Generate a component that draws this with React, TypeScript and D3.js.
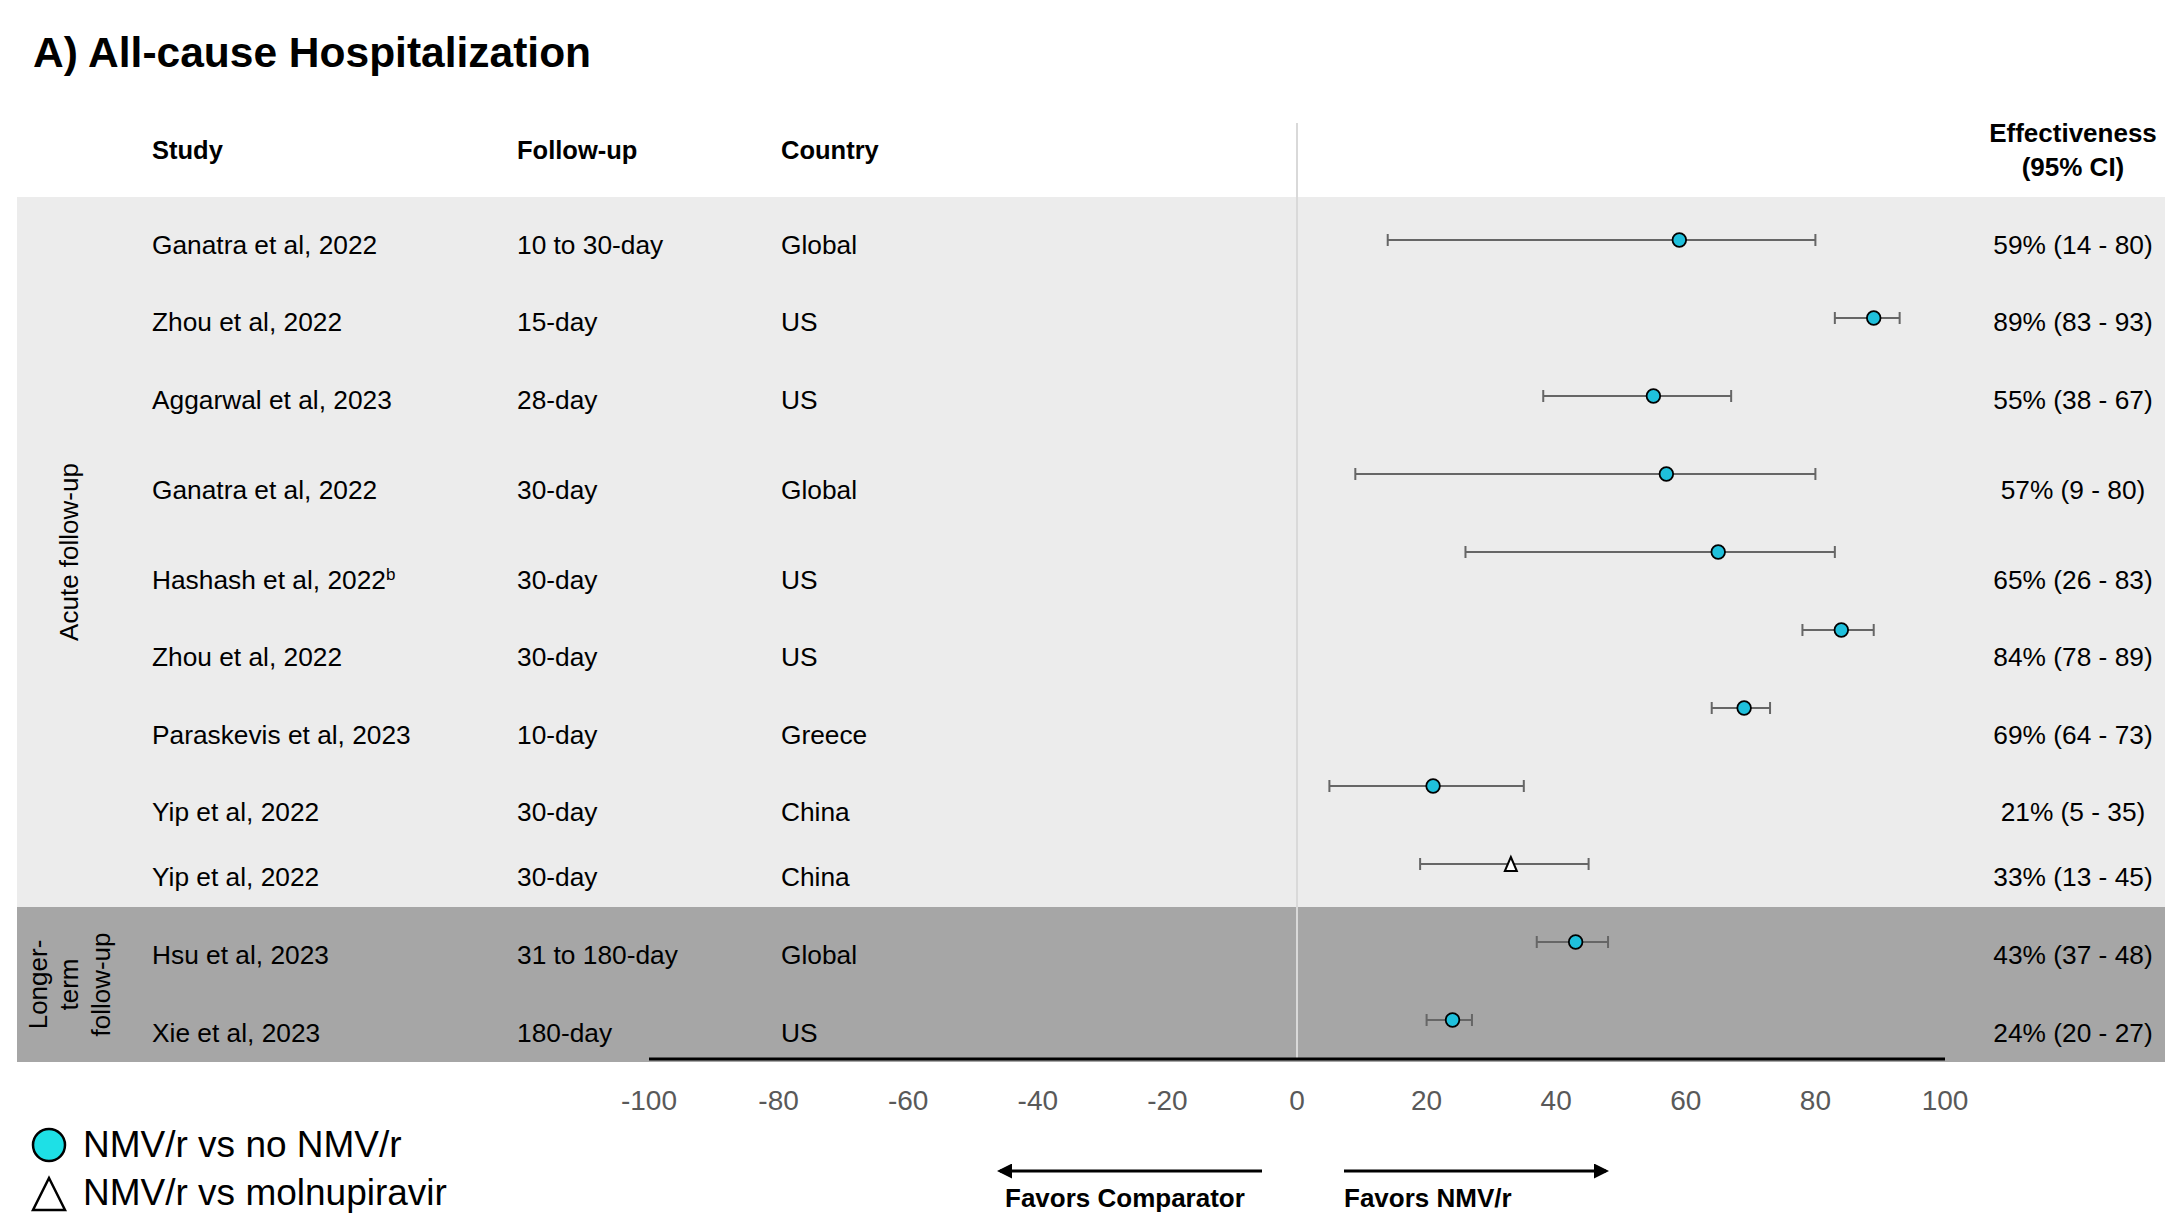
import React from "react";
import * as d3 from "d3";

// ---------- DATA ----------
const studies = [
  "Ganatra et al, 2022",
  "Zhou et al, 2022",
  "Aggarwal et al, 2023",
  "Ganatra et al, 2022",
  "Hashash et al, 2022",
  "Zhou et al, 2022",
  "Paraskevis et al, 2023",
  "Yip et al, 2022",
  "Yip et al, 2022",
  "Hsu et al, 2023",
  "Xie et al, 2023",
];
const footnotes = ["", "", "", "", "b", "", "", "", "", "", ""];
const followUps = [
  "10 to 30-day",
  "15-day",
  "28-day",
  "30-day",
  "30-day",
  "30-day",
  "10-day",
  "30-day",
  "30-day",
  "31 to 180-day",
  "180-day",
];
const countries = ["Global", "US", "US", "Global", "US", "US", "Greece", "China", "China", "Global", "US"];
// plotted values (as drawn in the picture)
const estimates = [59, 89, 55, 57, 65, 84, 69, 21, 33, 43, 24];
const lowerCI = [14, 83, 38, 9, 26, 78, 64, 5, 19, 37, 20];
const upperCI = [80, 93, 67, 80, 83, 89, 73, 35, 45, 48, 27];
// printed effectiveness labels
const effLabels = [
  "59% (14 - 80)",
  "89% (83 - 93)",
  "55% (38 - 67)",
  "57% (9 - 80)",
  "65% (26 - 83)",
  "84% (78 - 89)",
  "69% (64 - 73)",
  "21% (5 - 35)",
  "33% (13 - 45)",
  "43% (37 - 48)",
  "24% (20 - 27)",
];
const comparators = ["none", "none", "none", "none", "none", "none", "none", "none", "molnupiravir", "none", "none"];
const xTicks = [-100, -80, -60, -40, -20, 0, 20, 40, 60, 80, 100];

// ---------- LAYOUT (not data) ----------
const W = 2165;
const H = 1213;
const FONT = "'Liberation Sans', Arial, Helvetica, sans-serif";
const labelOffsets = [5, 4, 4, 16, 28, 27, 27, 26, 13, 13, 13];

export default function App() {
  const n = studies.length;
  const x = d3.scaleLinear().domain([-100, 100]).range([649, 1945]);
  const y = d3
    .scalePoint<number>()
    .domain(d3.range(n))
    .range([240, 240 + 78 * (n - 1)]);

  const acuteTop = 197;
  const acuteBottom = 907;
  const longBottom = 1062;
  const axisY = 1059;

  const colStudy = 152;
  const colFollow = 517;
  const colCountry = 781;
  const colEff = 2073;

  const textBase = (i: number) => (y(i) as number) + labelOffsets[i] + 9;

  const markerFill = "#1fc0dc";
  const legendFill = "#1ee0e6";

  return (
    <svg
      width={W}
      height={H}
      viewBox={`0 0 ${W} ${H}`}
      style={{ position: "absolute", left: 0, top: 0, background: "#fff" }}
      fontFamily={FONT}
    >
      <defs>
        <marker id="ah" viewBox="0 0 10 10" refX="8" refY="5" markerWidth="5" markerHeight="5" orient="auto-start-reverse">
          <path d="M0,0 L10,5 L0,10 z" fill="#000" />
        </marker>
      </defs>

      {/* Title */}
      <text x={33} y={67} fontSize={42.5} fontWeight="bold" fill="#000">
        A) All-cause Hospitalization
      </text>

      {/* Bands */}
      <rect x={17} y={acuteTop} width={W - 17} height={acuteBottom - acuteTop} fill="#ececec" />
      <rect x={17} y={acuteBottom} width={W - 17} height={longBottom - acuteBottom} fill="#a6a6a6" />

      {/* Headers */}
      <g fontSize={25.5} fontWeight="bold" fill="#000">
        <text x={colStudy} y={159}>Study</text>
        <text x={colFollow} y={159}>Follow-up</text>
        <text x={colCountry} y={159}>Country</text>
        <text x={colEff} y={142} textAnchor="middle" fontSize={26}>Effectiveness</text>
        <text x={colEff} y={176} textAnchor="middle" fontSize={26}>(95% CI)</text>
      </g>

      {/* Group labels */}
      <text
        transform={`translate(78, ${(acuteTop + acuteBottom) / 2}) rotate(-90)`}
        textAnchor="middle"
        fontSize={26}
        fill="#000"
      >
        Acute follow-up
      </text>
      <g transform={`translate(0, ${(acuteBottom + longBottom) / 2}) rotate(-90)`} fontSize={26} fill="#000" textAnchor="middle">
        <text x={0} y={47}>Longer-</text>
        <text x={0} y={78}>term</text>
        <text x={0} y={110}>follow-up</text>
      </g>

      {/* Zero line */}
      <line x1={x(0)} x2={x(0)} y1={123} y2={axisY} stroke="#d9d9d9" strokeWidth={2} />

      {/* Row texts */}
      <g fontSize={26.3} fill="#000">
        {studies.map((s, i) => (
          <g key={i}>
            <text x={colStudy} y={textBase(i)}>
              {s}
              {footnotes[i] ? (
                <tspan fontSize={17} dy={-9}>
                  {footnotes[i]}
                </tspan>
              ) : null}
            </text>
            <text x={colFollow} y={textBase(i)}>{followUps[i]}</text>
            <text x={colCountry} y={textBase(i)}>{countries[i]}</text>
            <text x={colEff} y={textBase(i)} textAnchor="middle">
              {effLabels[i]}
            </text>
          </g>
        ))}
      </g>

      {/* CI bars and markers */}
      {estimates.map((e, i) => {
        const yy = y(i) as number;
        return (
          <g key={i}>
            <line x1={x(lowerCI[i])} x2={x(upperCI[i])} y1={yy} y2={yy} stroke="#666" strokeWidth={2} />
            <line x1={x(lowerCI[i])} x2={x(lowerCI[i])} y1={yy - 6} y2={yy + 6} stroke="#666" strokeWidth={2} />
            <line x1={x(upperCI[i])} x2={x(upperCI[i])} y1={yy - 6} y2={yy + 6} stroke="#666" strokeWidth={2} />
            {comparators[i] === "molnupiravir" ? (
              <path
                d={`M${x(e)},${yy - 7} L${x(e) + 6},${yy + 7} L${x(e) - 6},${yy + 7} Z`}
                fill="#fff"
                stroke="#000"
                strokeWidth={2}
              />
            ) : (
              <circle cx={x(e)} cy={yy} r={6.8} fill={markerFill} stroke="#000" strokeWidth={1.8} />
            )}
          </g>
        );
      })}

      {/* Axis line */}
      <line x1={x(-100)} x2={x(100)} y1={axisY} y2={axisY} stroke="#000" strokeWidth={3} />

      {/* Tick labels */}
      <g fontSize={28} fill="#595959" textAnchor="middle">
        {xTicks.map((t) => (
          <text key={t} x={x(t)} y={1110}>
            {t}
          </text>
        ))}
      </g>

      {/* Favors arrows */}
      <line x1={1262} x2={1000} y1={1171} y2={1171} stroke="#000" strokeWidth={3} markerEnd="url(#ah)" />
      <line x1={1344} x2={1606} y1={1171} y2={1171} stroke="#000" strokeWidth={3} markerEnd="url(#ah)" />
      <g fontSize={26} fontWeight="bold" fill="#000">
        <text x={1005} y={1207}>Favors Comparator</text>
        <text x={1344} y={1207}>Favors NMV/r</text>
      </g>

      {/* Legend */}
      <circle cx={49} cy={1145} r={16} fill={legendFill} stroke="#000" strokeWidth={2.5} />
      <path d="M49,1178 L65,1210 L33,1210 Z" fill="#fff" stroke="#000" strokeWidth={2.5} />
      <g fontSize={37} fill="#000">
        <text x={83} y={1157}>NMV/r vs no NMV/r</text>
        <text x={83} y={1205}>NMV/r vs molnupiravir</text>
      </g>
    </svg>
  );
}
